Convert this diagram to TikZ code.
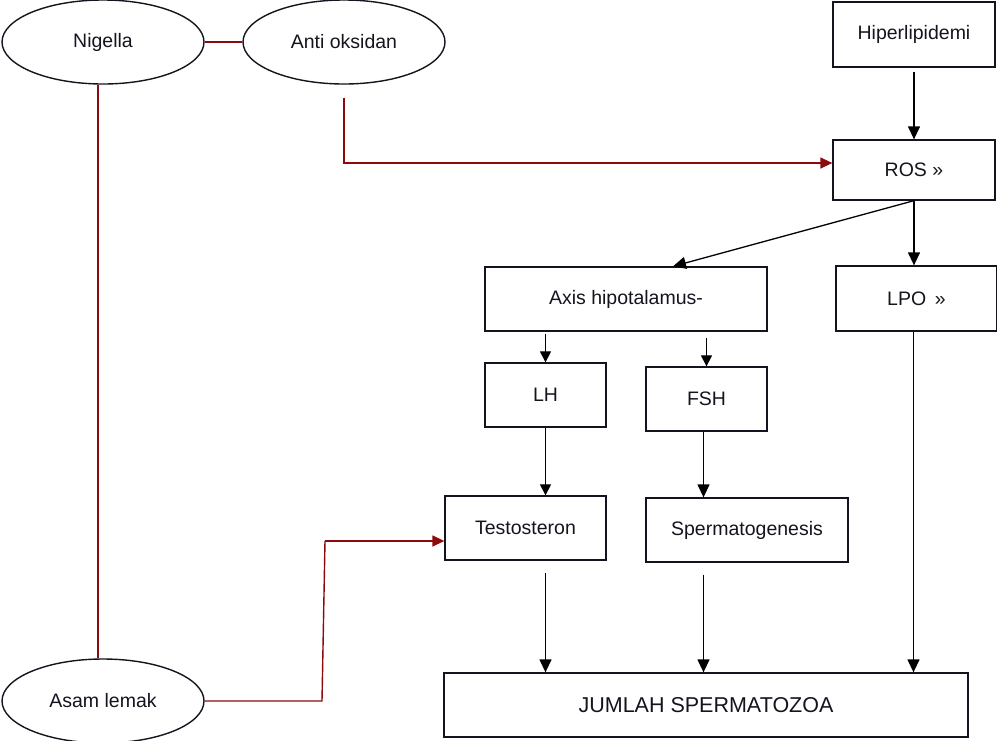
\documentclass[tikz,border=0pt]{standalone}
\usepackage{fontspec}
\setmainfont{Liberation Sans}
\usetikzlibrary{arrows.meta,shapes.geometric}
\definecolor{dred}{RGB}{140,10,10}
\definecolor{edge}{RGB}{20,20,30}
\begin{document}
\begin{tikzpicture}[x=1pt,y=-1pt,
  every node/.style={font=\fontsize{19.5}{23}\selectfont, text=edge},
  ell/.style={ellipse, draw=edge, line width=1.4pt, minimum width=202pt, minimum height=84pt, inner sep=0pt},
  bx/.style={rectangle, draw=edge, line width=1.3pt, inner sep=0pt},
  blk/.style={-{Triangle[length=13pt,width=12pt]}, line width=1.3pt, black},
  blks/.style={-{Triangle[length=11pt,width=11pt]}, line width=1.1pt, black},
  rd/.style={line width=1.4pt, dred},
  rda/.style={rd, -{Triangle[length=12pt,width=11pt]}}]
\useasboundingbox (0,0) rectangle (997,740);
\node[ell] (nig) at (103,42) {Nigella};
\node[ell] (anti) at (344,42) {Anti oksidan};
\node[ell] (asam) at (103,701) {Asam lemak};
\node[bx, minimum width=162pt, minimum height=65pt] (hiper) at (914,34.5) {Hiperlipidemi};
\node[bx, minimum width=162pt, minimum height=60pt] (ros) at (914,170) {ROS »};
\node[bx, minimum width=161pt, minimum height=65pt] (lpo) at (916.5,298.5) {LPO \,»};
\node[bx, minimum width=282pt, minimum height=64pt] (axis) at (626,299) {Axis hipotalamus-};
\node[bx, minimum width=121pt, minimum height=64pt] (lh) at (545.5,395) {LH};
\node[bx, minimum width=121pt, minimum height=64pt] (fsh) at (706.5,399) {FSH};
\node[bx, minimum width=161pt, minimum height=64pt] (testo) at (525.5,528) {Testosteron};
\node[bx, minimum width=202pt, minimum height=64pt] (sperm) at (747,530) {Spermatogenesis};
\node[bx, minimum width=524pt, minimum height=64pt, font=\fontsize{21.5}{25}\selectfont] (jum) at (706,705) {JUMLAH SPERMATOZOA};
% red connectors
\draw[rd] (nig.east) -- (anti.west);
\draw[rd] ([xshift=-5pt]nig.south) -- ([xshift=-5pt]asam.north);
\draw[rda] ([yshift=-13pt]anti.south) |- ([yshift=7pt]ros.west);
\coordinate (c1) at (325,541);
\draw[rd] (asam.east) -- (322,701) -- (c1);
\draw[rda] (c1) -- ([yshift=-13pt]testo.west);
% black arrows
\draw[blk] ([yshift=-4pt]hiper.south) -- (ros.north);
\draw[blk] (ros.south) -- (lpo.north -| ros.south);
\draw[blk] (ros.south) -- ([xshift=47pt]axis.north);
\draw[blks] ([yshift=-2pt]axis.south -| lh.north) -- (lh.north);
\draw[blks] ([yshift=-6pt]axis.south -| fsh.north) -- (fsh.north);
\draw[blks] (lh.south) -- (testo.north -| lh.south);
\draw[blk] ([xshift=-3pt]fsh.south) -- ([xshift=-3pt]fsh.south |- sperm.north);
\draw[blk] ([yshift=-12pt]testo.south -| lh.south) -- (jum.north -| lh.south);
\draw[blk] ([xshift=-3pt,yshift=-12pt]fsh.south |- sperm.south) -- ([xshift=-3pt]fsh.south |- jum.north);
\draw[blk] ([xshift=-3pt]lpo.south) -- ([xshift=-3pt]lpo.south |- jum.north);
\end{tikzpicture}
\end{document}
